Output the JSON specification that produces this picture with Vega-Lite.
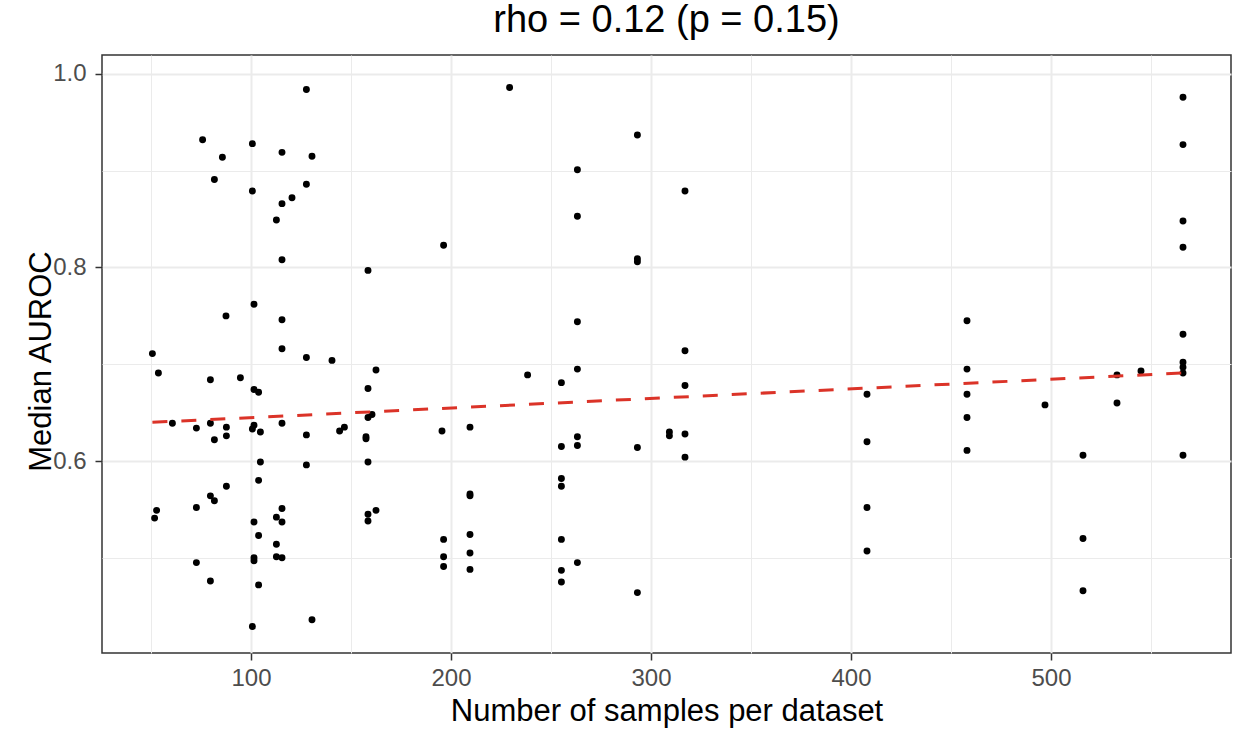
{
  "$schema": "https://vega.github.io/schema/vega-lite/v6.json",
  "width": 1129,
  "height": 598,
  "autosize": {"type": "none"},
  "padding": {"left": 102, "top": 55, "right": 7, "bottom": 76},
  "background": "white",
  "config": {
    "font": "Liberation Sans",
    "view": {"stroke": "#333333", "strokeWidth": 1.5},
    "axis": {
      "domain": false,
      "gridColor": "#EBEBEB",
      "tickColor": "#333333",
      "tickWidth": 1.5,
      "tickSize": 7,
      "labelFont": "Liberation Sans",
      "labelFontSize": 24,
      "labelColor": "#4D4D4D",
      "titleFont": "Liberation Sans",
      "titleFontSize": 31,
      "titleFontWeight": "normal",
      "titleColor": "black"
    }
  },
  "title": {
    "text": "rho = 0.12 (p = 0.15)",
    "fontSize": 38,
    "font": "Liberation Sans",
    "fontWeight": "normal",
    "color": "black",
    "anchor": "middle",
    "baseline": "bottom",
    "offset": 10,
    "dy": 33
  },
  "layer": [
    {
      "data": {"values": [
        {"n": 50.7, "auroc": 0.711}, {"n": 53.7, "auroc": 0.691}, {"n": 52.8, "auroc": 0.549}, {"n": 51.8, "auroc": 0.541},
        {"n": 60.7, "auroc": 0.639}, {"n": 72.7, "auroc": 0.634}, {"n": 72.7, "auroc": 0.552}, {"n": 72.7, "auroc": 0.495},
        {"n": 75.8, "auroc": 0.932}, {"n": 79.7, "auroc": 0.684}, {"n": 79.7, "auroc": 0.639}, {"n": 79.7, "auroc": 0.564},
        {"n": 79.7, "auroc": 0.476}, {"n": 81.7, "auroc": 0.891}, {"n": 81.7, "auroc": 0.622}, {"n": 81.7, "auroc": 0.559},
        {"n": 85.7, "auroc": 0.914}, {"n": 87.5, "auroc": 0.750}, {"n": 87.7, "auroc": 0.635}, {"n": 87.7, "auroc": 0.626},
        {"n": 87.7, "auroc": 0.574}, {"n": 94.7, "auroc": 0.686}, {"n": 100.7, "auroc": 0.928}, {"n": 100.7, "auroc": 0.879},
        {"n": 101.5, "auroc": 0.762}, {"n": 101.5, "auroc": 0.674}, {"n": 103.8, "auroc": 0.671}, {"n": 101.5, "auroc": 0.637},
        {"n": 100.7, "auroc": 0.633}, {"n": 104.7, "auroc": 0.630}, {"n": 104.7, "auroc": 0.599}, {"n": 103.8, "auroc": 0.580},
        {"n": 101.5, "auroc": 0.537}, {"n": 103.8, "auroc": 0.523}, {"n": 101.5, "auroc": 0.500}, {"n": 101.5, "auroc": 0.497},
        {"n": 103.8, "auroc": 0.472}, {"n": 100.7, "auroc": 0.429}, {"n": 112.7, "auroc": 0.849}, {"n": 112.7, "auroc": 0.542},
        {"n": 112.7, "auroc": 0.514}, {"n": 112.7, "auroc": 0.501}, {"n": 115.5, "auroc": 0.919}, {"n": 115.5, "auroc": 0.866},
        {"n": 115.5, "auroc": 0.808}, {"n": 115.5, "auroc": 0.746}, {"n": 115.5, "auroc": 0.716}, {"n": 115.5, "auroc": 0.639},
        {"n": 115.5, "auroc": 0.551}, {"n": 115.5, "auroc": 0.537}, {"n": 115.5, "auroc": 0.500}, {"n": 120.5, "auroc": 0.872},
        {"n": 127.7, "auroc": 0.984}, {"n": 127.7, "auroc": 0.886}, {"n": 127.7, "auroc": 0.707}, {"n": 127.7, "auroc": 0.627},
        {"n": 127.7, "auroc": 0.596}, {"n": 130.5, "auroc": 0.915}, {"n": 130.5, "auroc": 0.436}, {"n": 140.5, "auroc": 0.704},
        {"n": 144.3, "auroc": 0.631}, {"n": 146.7, "auroc": 0.635},
        {"n": 157.5, "auroc": 0.625}, {"n": 157.5, "auroc": 0.623}, {"n": 158.5, "auroc": 0.797}, {"n": 158.5, "auroc": 0.675},
        {"n": 158.5, "auroc": 0.645}, {"n": 160.5, "auroc": 0.648}, {"n": 158.5, "auroc": 0.599}, {"n": 158.5, "auroc": 0.545},
        {"n": 158.5, "auroc": 0.538}, {"n": 162.5, "auroc": 0.694}, {"n": 162.5, "auroc": 0.549}, {"n": 195.5, "auroc": 0.631},
        {"n": 196.3, "auroc": 0.823}, {"n": 196.3, "auroc": 0.519}, {"n": 196.3, "auroc": 0.501}, {"n": 196.3, "auroc": 0.491},
        {"n": 209.5, "auroc": 0.635}, {"n": 209.5, "auroc": 0.566}, {"n": 209.5, "auroc": 0.564}, {"n": 209.5, "auroc": 0.524},
        {"n": 209.5, "auroc": 0.505}, {"n": 209.5, "auroc": 0.488}, {"n": 229.3, "auroc": 0.986}, {"n": 238.3, "auroc": 0.689},
        {"n": 255.2, "auroc": 0.681}, {"n": 255.2, "auroc": 0.615}, {"n": 255.2, "auroc": 0.582}, {"n": 255.2, "auroc": 0.574},
        {"n": 255.2, "auroc": 0.519}, {"n": 255.2, "auroc": 0.487}, {"n": 255.2, "auroc": 0.475}, {"n": 263.2, "auroc": 0.901},
        {"n": 263.2, "auroc": 0.853}, {"n": 263.2, "auroc": 0.744}, {"n": 263.2, "auroc": 0.695}, {"n": 263.2, "auroc": 0.625},
        {"n": 263.2, "auroc": 0.616}, {"n": 263.2, "auroc": 0.495}, {"n": 293.2, "auroc": 0.937}, {"n": 293.2, "auroc": 0.809},
        {"n": 293.2, "auroc": 0.806}, {"n": 293.2, "auroc": 0.614}, {"n": 293.2, "auroc": 0.464}, {"n": 309.2, "auroc": 0.630},
        {"n": 309.2, "auroc": 0.626}, {"n": 317, "auroc": 0.879}, {"n": 317, "auroc": 0.714}, {"n": 317, "auroc": 0.678},
        {"n": 317, "auroc": 0.628}, {"n": 317, "auroc": 0.604},
        {"n": 408, "auroc": 0.669}, {"n": 408, "auroc": 0.620}, {"n": 408, "auroc": 0.552}, {"n": 408, "auroc": 0.507},
        {"n": 458, "auroc": 0.745}, {"n": 458, "auroc": 0.695}, {"n": 458, "auroc": 0.669}, {"n": 458, "auroc": 0.645},
        {"n": 458, "auroc": 0.611}, {"n": 497, "auroc": 0.658}, {"n": 516, "auroc": 0.606}, {"n": 516, "auroc": 0.520},
        {"n": 516, "auroc": 0.466}, {"n": 533, "auroc": 0.689}, {"n": 533, "auroc": 0.660}, {"n": 545, "auroc": 0.693},
        {"n": 566, "auroc": 0.976}, {"n": 566, "auroc": 0.927}, {"n": 566, "auroc": 0.848}, {"n": 566, "auroc": 0.821},
        {"n": 566, "auroc": 0.731}, {"n": 566, "auroc": 0.702}, {"n": 566, "auroc": 0.697}, {"n": 566, "auroc": 0.691},
        {"n": 566, "auroc": 0.606}
      ]},
      "mark": {"type": "point", "filled": true, "color": "black", "opacity": 1, "size": 48},
      "encoding": {
        "x": {
          "field": "n", "type": "quantitative",
          "scale": {"domain": [25.5, 590], "nice": false, "zero": false},
          "axis": {
            "title": "Number of samples per dataset",
            "values": [50, 100, 150, 200, 250, 300, 350, 400, 450, 500, 550],
            "format": "d",
            "labelExpr": "datum.value % 100 === 0 ? datum.label : ''",
            "tickOpacity": {"condition": {"test": "datum.value % 100 === 0", "value": 1}, "value": 0},
            "gridWidth": {"condition": {"test": "datum.value % 100 === 0", "value": 2}, "value": 1},
            "labelPadding": 6,
            "titleBaseline": "alphabetic",
            "titleY": 67,
            "titleX": 564.5
          }
        },
        "y": {
          "field": "auroc", "type": "quantitative",
          "scale": {"domain": [0.4016, 1.0196], "nice": false, "zero": false},
          "axis": {
            "title": "Median AUROC",
            "values": [0.5, 0.6, 0.7, 0.8, 0.9, 1.0],
            "format": ".1f",
            "labelExpr": "round(datum.value * 10) % 2 === 0 ? datum.label : ''",
            "tickOpacity": {"condition": {"test": "round(datum.value * 10) % 2 === 0", "value": 1}, "value": 0},
            "gridWidth": {"condition": {"test": "round(datum.value * 10) % 2 === 0", "value": 2}, "value": 1},
            "labelPadding": 9,
            "titleBaseline": "alphabetic",
            "titleAngle": -90,
            "titleX": -52,
            "titleY": 306
          }
        }
      }
    },
    {
      "data": {"values": [
        {"n": 50.7, "fit": 0.640},
        {"n": 566, "fit": 0.691}
      ]},
      "mark": {"type": "line", "color": "#DB3328", "strokeWidth": 3, "strokeDash": [15, 14]},
      "encoding": {
        "x": {"field": "n", "type": "quantitative"},
        "y": {"field": "fit", "type": "quantitative"}
      }
    }
  ]
}
